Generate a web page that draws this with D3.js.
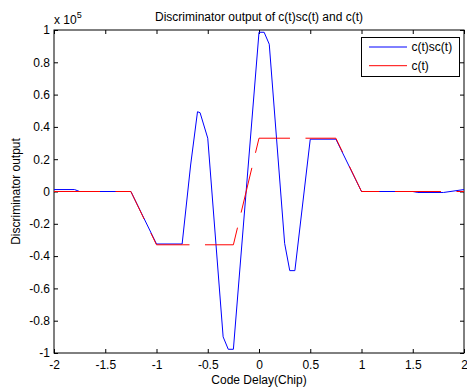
<!DOCTYPE html>
<html><head><meta charset="utf-8">
<script src="https://cdn.jsdelivr.net/npm/d3@7"></script>
<style>
body{margin:0;background:#fff}
text{font-family:"Liberation Sans",Arial,Helvetica,sans-serif;fill:#000}
</style>
</head><body>
<svg id="chart" width="467" height="389"></svg>
<script>
// ---- data (values in units of 1e5) ----
const blueT = [-2, -1.8, -1.75, -1.25, -1.0, -0.75, -0.667, -0.6, -0.575, -0.5, -0.35, -0.3, -0.25, 0, 0.05, 0.1, 0.25, 0.3, 0.35, 0.5, 0.75, 1.0, 1.5, 1.55, 1.8, 2.0];
const blueV = [0.012, 0.012, 0, 0, -0.325, -0.325, 0.164, 0.494, 0.488, 0.33, -0.90, -0.977, -0.977, 0.986, 0.986, 0.912, -0.321, -0.49, -0.49, 0.324, 0.324, 0, 0, -0.006, -0.006, 0.012];
const redT = [-2, -1.25, -1.0, -0.25, 0, 0.75, 1.0, 2.0];
const redV = [0, 0, -0.33, -0.33, 0.33, 0.33, 0, 0];
const xTicks = [-2, -1.5, -1, -0.5, 0, 0.5, 1, 1.5, 2];
const yTicks = [-1, -0.8, -0.6, -0.4, -0.2, 0, 0.2, 0.4, 0.6, 0.8, 1];
const seriesNames = ["c(t)sc(t)", "c(t)"];
const seriesColors = ["#0000ff", "#ff0000"];
const titleText = "Discriminator output of c(t)sc(t) and c(t)";
const xLabelText = "Code Delay(Chip)";
const yLabelText = "Discriminator output";

// ---- layout ----
const L = 54, R = 464, T = 30, B = 353;
const svg = d3.select("#chart");
const x = d3.scaleLinear().domain([-2, 2]).range([L, R]);
const y = d3.scaleLinear().domain([-1, 1]).range([B, T]);
const fmt = d => String(+d.toFixed(2));

// frame
svg.append("rect").attr("x", L).attr("y", T).attr("width", R - L).attr("height", B - T)
  .attr("fill", "none").attr("stroke", "#000").attr("stroke-width", 1);

const axB = svg.append("g").attr("transform", `translate(0,${B})`)
  .call(d3.axisBottom(x).tickValues(xTicks).tickFormat(fmt).tickSizeInner(-4).tickSizeOuter(0).tickPadding(7));
const axT = svg.append("g").attr("transform", `translate(0,${T})`)
  .call(d3.axisTop(x).tickValues(xTicks).tickFormat("").tickSizeInner(-4).tickSizeOuter(0));
const axL = svg.append("g").attr("transform", `translate(${L},0)`)
  .call(d3.axisLeft(y).tickValues(yTicks).tickFormat(fmt).tickSizeInner(-4).tickSizeOuter(0).tickPadding(4));
const axR = svg.append("g").attr("transform", `translate(${R},0)`)
  .call(d3.axisRight(y).tickValues(yTicks).tickFormat("").tickSizeInner(-4).tickSizeOuter(0));
[axB, axT, axL, axR].forEach(g => {
  g.select(".domain").remove();
  g.selectAll("line").attr("stroke", "#000");
  g.selectAll("text").attr("font-size", 12).attr("font-family", "Liberation Sans, Arial, sans-serif").attr("fill", "#000");
});

// lines
const line = d3.line().x(d => x(d[0])).y(d => y(d[1]));
const blueData = blueT.map((t, i) => [t, blueV[i]]);
const redData = redT.map((t, i) => [t, redV[i]]);
svg.append("path").datum(blueData).attr("d", line).attr("fill", "none")
  .attr("stroke", seriesColors[0]).attr("stroke-width", 1);
svg.append("path").datum(redData).attr("d", line).attr("fill", "none")
  .attr("stroke", seriesColors[1]).attr("stroke-width", 1).attr("stroke-dasharray", "46,15.5");

// exponent
const ex = svg.append("text").attr("x", L).attr("y", 24).attr("font-size", 12);
ex.append("tspan").text("x 10");
ex.append("tspan").attr("font-size", 9).attr("dy", -6).text("5");

// title & labels
svg.append("text").attr("x", (L + R) / 2).attr("y", 21).attr("text-anchor", "middle").attr("font-size", 12).text(titleText);
svg.append("text").attr("x", (L + R) / 2).attr("y", 384).attr("text-anchor", "middle").attr("font-size", 12).text(xLabelText);
svg.append("text").attr("transform", `translate(20,${(T + B) / 2}) rotate(-90)`).attr("text-anchor", "middle").attr("font-size", 12).text(yLabelText);

// legend
const lg = svg.append("g");
lg.append("rect").attr("x", 361.5).attr("y", 37.5).attr("width", 98).attr("height", 39)
  .attr("fill", "#fff").attr("stroke", "#000").attr("stroke-width", 1);
seriesNames.forEach((n, i) => {
  const yy = 47 + i * 18.7;
  lg.append("line").attr("x1", 369).attr("x2", 407).attr("y1", yy).attr("y2", yy)
    .attr("stroke", seriesColors[i]).attr("stroke-width", 1);
  lg.append("text").attr("x", 411.5).attr("y", yy + 4.3).attr("font-size", 12).text(n);
});
</script>
</body></html>
